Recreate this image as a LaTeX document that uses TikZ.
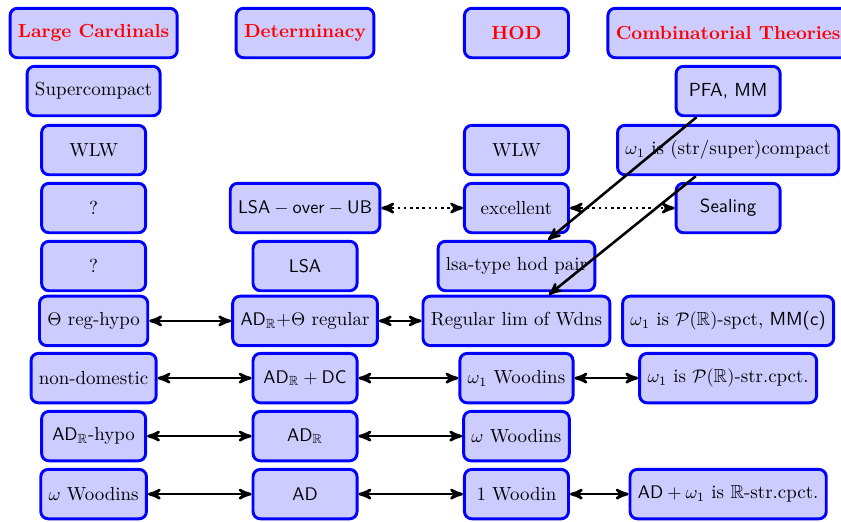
\documentclass[tikz,border=0pt]{standalone}
\usepackage{amsmath,amssymb}
\usepackage{xcolor}
\usepackage{tikz}
\usetikzlibrary{shapes,arrows,positioning,calc,arrows.meta}

\begin{document}
\begin{tikzpicture}[auto,
    box/.style={draw=blue, ultra thick, fill=blue!20, rounded corners, inner sep=4.3pt, minimum width=2cm, minimum height=0.95cm, font=\fontsize{10.35}{12}\selectfont},
    head/.style={box, font=\fontsize{10.35}{12}\selectfont\bfseries, text=red},
    link/.style={<->, >=stealth', line width=1.4pt},
    weak/.style={link, dotted},
    imp/.style={->, >=stealth', line width=1.4pt}]
    \useasboundingbox (0,0) rectangle (16.17,-10.02);

    \node [head] (lc) at (1.80,-0.635) {Large Cardinals};
    \node [head] (det) at (5.865,-0.635) {Determinacy};
    \node [head] (hod) at (9.93,-0.635) {HOD};
    \node [head] (comb) at (14.0,-0.635) {Combinatorial Theories};

    \node [box] (sc) at (1.80,-1.75) {Supercompact};
    \node [box] (wlwL) at (1.80,-2.885) {WLW};
    \node [box] (qa) at (1.80,-4.0) {?};
    \node [box] (qb) at (1.80,-5.115) {?};
    \node [box] (threg) at (1.80,-6.17) {$\Theta$ reg-hypo};
    \node [box] (nd) at (1.80,-7.27) {non-domestic};
    \node [box] (adrh) at (1.80,-8.385) {$\mathsf{AD}_{\mathbb{R}}$-hypo};
    \node [box] (womL) at (1.80,-9.5) {$\omega$ Woodins};

    \node [box] (lsaub) at (5.865,-4.0) {$\mathsf{LSA}-\mathsf{over}-\mathsf{UB}$};
    \node [box] (lsa) at (5.865,-5.115) {$\mathsf{LSA}$};
    \node [box] (adrt) at (5.865,-6.17) {$\mathsf{AD}_{\mathbb{R}}$+$\Theta$ regular};
    \node [box] (adrdc) at (5.865,-7.27) {$\mathsf{AD}_{\mathbb{R}}+\mathsf{DC}$};
    \node [box] (adr) at (5.865,-8.385) {$\mathsf{AD}_{\mathbb{R}}$};
    \node [box] (ad) at (5.865,-9.5) {$\mathsf{AD}$};

    \node [box] (wlwH) at (9.93,-2.885) {WLW};
    \node [box] (exc) at (9.93,-4.0) {excellent};
    \node [box] (lsat) at (9.93,-5.115) {lsa-type hod pair};
    \node [box] (reglim) at (9.93,-6.17) {Regular lim of Wdns};
    \node [box] (wone) at (9.93,-7.27) {$\omega_1$ Woodins};
    \node [box] (womH) at (9.93,-8.385) {$\omega$ Woodins};
    \node [box] (onew) at (9.93,-9.5) {1 Woodin};

    \node [box] (pfa) at (14.0,-1.75) {\textsf{PFA, MM}};
    \node [box] (cpct) at (14.0,-2.885) {$\omega_1$ is (str/super)compact};
    \node [box] (seal) at (14.0,-4.0) {\textsf{Sealing}};
    \node [box] (spct) at (14.0,-6.17) {$\omega_1$ is $\mathcal{P}(\mathbb{R})$-spct, \textsf{MM(c)}};
    \node [box] (strc) at (14.0,-7.27) {$\omega_1$ is $\mathcal{P}(\mathbb{R})$-str.cpct.};
    \node [box] (adw) at (14.0,-9.5) {$\mathsf{AD}+\omega_1$ is $\mathbb{R}$-str.cpct.};

    \draw [weak] (lsaub) -- (exc);
    \draw [weak] (exc) -- (seal);
    \draw [link] (threg) -- (adrt);
    \draw [link] (adrt) -- (reglim);
    \draw [link] (nd) -- (adrdc);
    \draw [link] (adrdc) -- (wone);
    \draw [link] (wone) -- (strc);
    \draw [link] (adrh) -- (adr);
    \draw [link] (adr) -- (womH);
    \draw [link] (womL) -- (ad);
    \draw [link] (ad) -- (onew);
    \draw [link] (onew) -- (adw);
    \draw [imp] (pfa) -- (lsat);
    \draw [imp] (cpct) -- (reglim);
\end{tikzpicture}
\end{document}
